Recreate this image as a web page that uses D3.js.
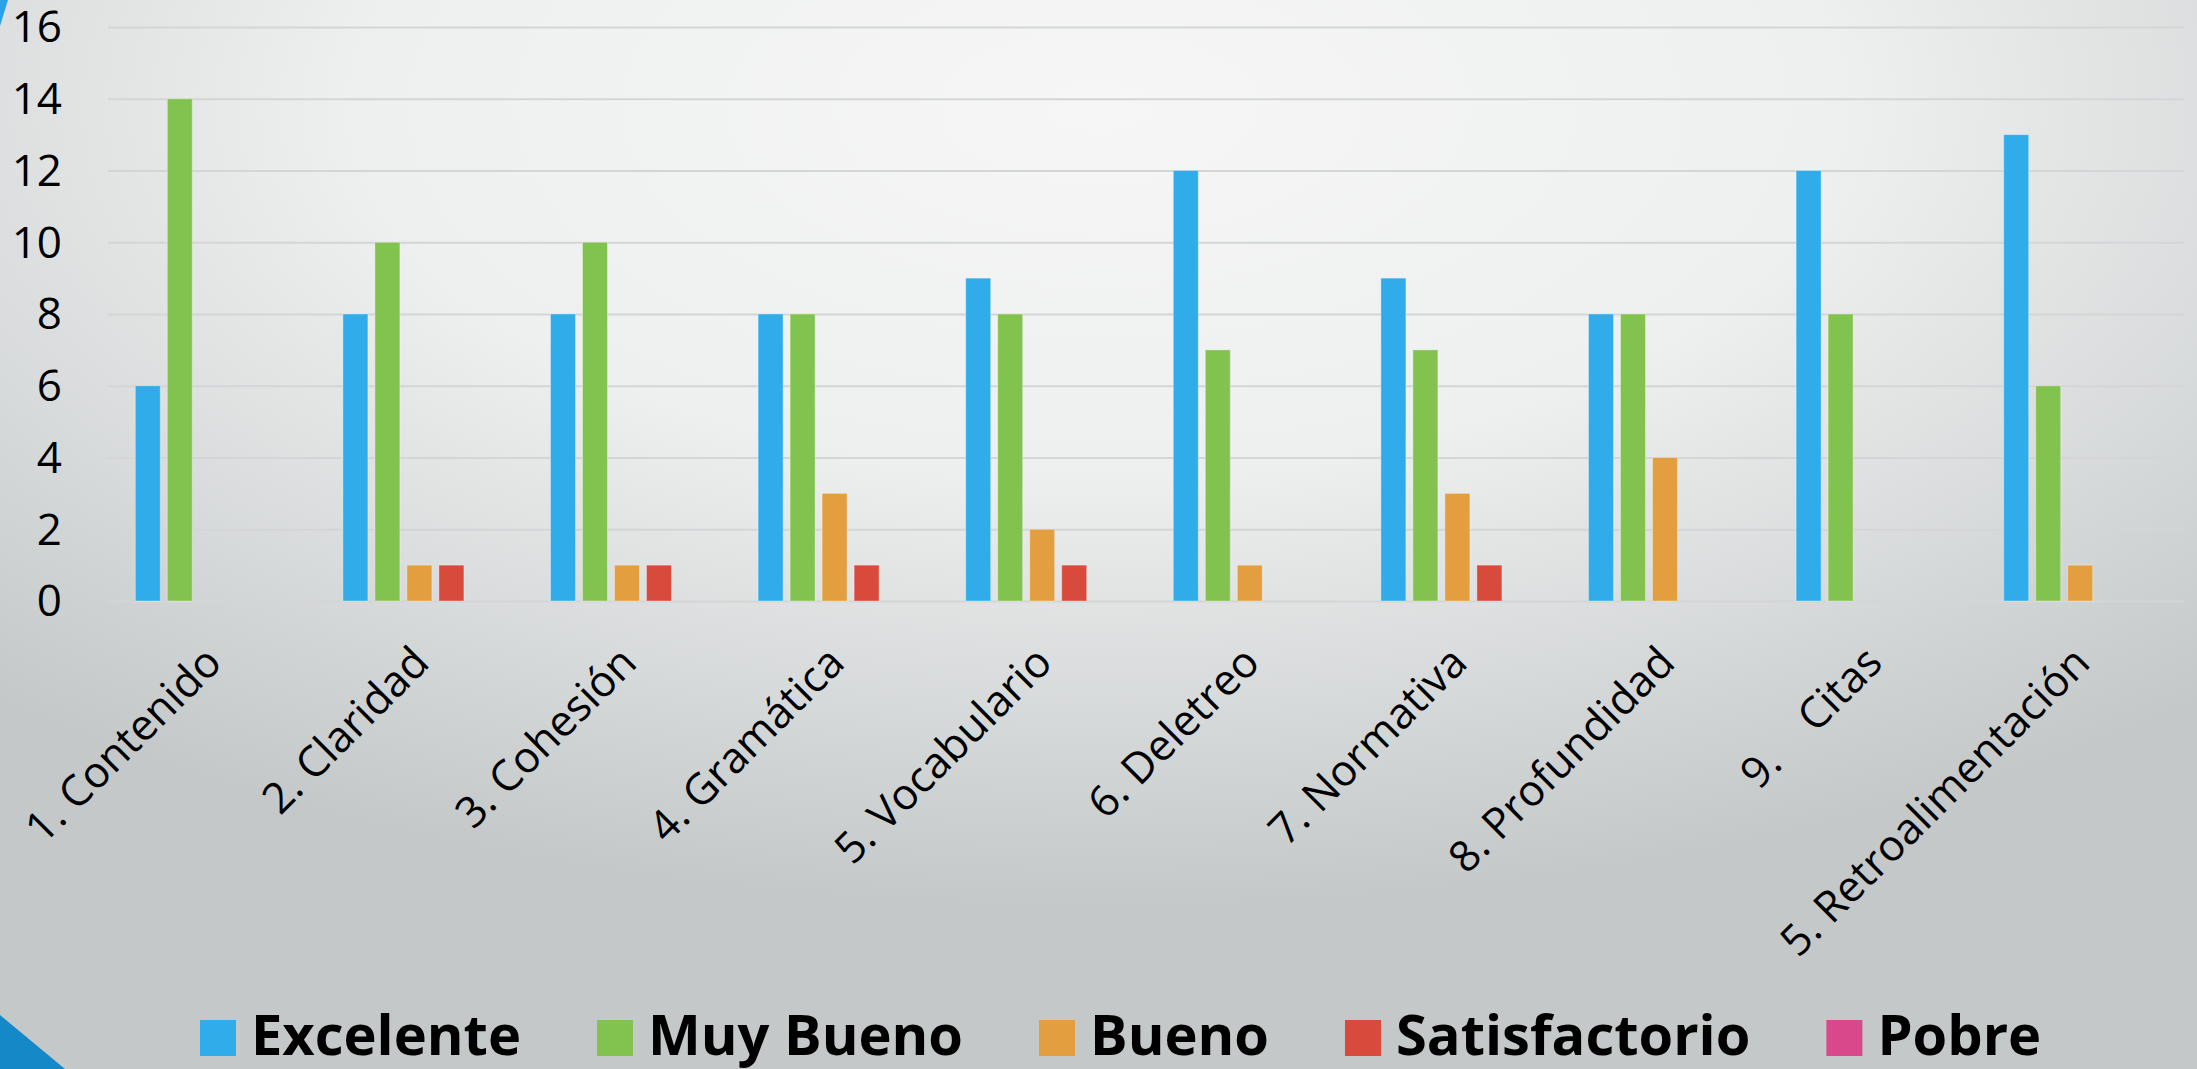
<!DOCTYPE html>
<html>
<head>
<meta charset="utf-8">
<script src="https://cdn.jsdelivr.net/npm/d3@7"></script>
<style>
  html, body { margin: 0; padding: 0; overflow: hidden; }
  svg { display: block; }
  text { font-family: "Open Sans", "Noto Sans", sans-serif; fill: #000; }
</style>
</head>
<body>
<svg id="chart" width="2197" height="1069"></svg>
<script>
const categories = ["1. Contenido", "2. Claridad", "3. Cohesión", "4. Gramática", "5. Vocabulario",
  "6. Deletreo", "7. Normativa", "8. Profundidad", "9.\u00a0\u00a0\u00a0\u00a0Citas", "5. Retroalimentación"];
const seriesNames = ["Excelente", "Muy Bueno", "Bueno", "Satisfactorio", "Pobre"];
const seriesColors = ["#31ACEB", "#82C350", "#E39E3F", "#D84B3C", "#D8488A"];
const excelente     = [6, 8, 8, 8, 9, 12, 9, 8, 12, 13];
const muyBueno      = [14, 10, 10, 8, 8, 7, 7, 8, 8, 6];
const bueno         = [0, 1, 1, 3, 2, 1, 3, 4, 0, 1];
const satisfactorio = [0, 1, 1, 1, 1, 0, 1, 0, 0, 0];
const pobre         = [0, 0, 0, 0, 0, 0, 0, 0, 0, 0];
const yTicks = [0, 2, 4, 6, 8, 10, 12, 14, 16];

(function () {
const seriesValues = [excelente, muyBueno, bueno, satisfactorio, pobre];
const W = 2197, H = 1069;
const svg = d3.select("#chart");

// background
const defs = svg.append("defs");
const grad = defs.append("radialGradient").attr("id", "bg")
  .attr("cx", 0.5).attr("cy", 0.1).attr("r", 0.75).attr("fx", 0.5).attr("fy", 0.1);
grad.append("stop").attr("offset", 0).attr("stop-color", "#f6f6f6");
grad.append("stop").attr("offset", 0.45).attr("stop-color", "#eeefef");
grad.append("stop").attr("offset", 1).attr("stop-color", "#c4c8c9");
svg.append("rect").attr("width", W).attr("height", H).attr("fill", "url(#bg)");

// decorative corners
svg.append("path").attr("d", "M0,0 L8,0 L0,26 Z").attr("fill", "#2aa3e6");
svg.append("path").attr("d", `M0,1015 L65,${H} L0,${H} Z`).attr("fill", "#1589C8");

const pLeft = 108, pRight = 2184, pTop = 27, pBottom = 601;
const x0 = d3.scaleBand().domain(categories).range([pLeft, pRight]).paddingInner(0).paddingOuter(0);
const x1 = d3.scaleBand().domain(seriesNames).range([0, x0.bandwidth()])
  .paddingInner(7 / 32).paddingOuter(0.853);
const y = d3.scaleLinear().domain([0, 16]).range([pBottom, pTop]);

// gridlines
const yAxis = d3.axisLeft(y).tickValues(yTicks).tickSize(-(pRight - pLeft)).tickFormat("");
const gAxis = svg.append("g").attr("transform", `translate(${pLeft},0)`).call(yAxis);
gAxis.select(".domain").remove();
gAxis.selectAll(".tick line").attr("stroke", "#d4d5d6").attr("stroke-width", 2);

// y labels
svg.append("g").selectAll("text").data(yTicks).join("text")
  .attr("x", 62).attr("y", d => y(d)).attr("dy", "0.35em")
  .attr("text-anchor", "end").attr("font-size", 44).text(d => d);

// bars
const groups = svg.append("g").selectAll("g").data(categories).join("g")
  .attr("transform", d => `translate(${x0(d)},0)`);
groups.selectAll("rect")
  .data((d, i) => seriesNames.map((s, j) => ({ s, v: seriesValues[j][i], c: seriesColors[j] })))
  .join("rect")
  .attr("x", d => x1(d.s))
  .attr("width", x1.bandwidth())
  .attr("y", d => y(d.v))
  .attr("height", d => y(0) - y(d.v))
  .attr("fill", d => d.c)
  .attr("stroke", "rgba(255,255,255,0.35)")
  .attr("stroke-width", 1);

// x labels
svg.append("g").selectAll("text").data(categories).join("text")
  .attr("transform", d => `translate(${x0(d) + x0.bandwidth() / 2 + 12},665) rotate(-45)`)
  .attr("text-anchor", "end").attr("font-size", 43)
  .style("white-space", "pre")
  .text(d => d);

// legend
const legend = svg.append("g");
let lx = 200;
seriesNames.forEach((name, i) => {
  legend.append("rect").attr("x", lx).attr("y", 1020).attr("width", 36).attr("height", 36)
    .attr("fill", seriesColors[i]);
  const t = legend.append("text").attr("x", lx + 51).attr("y", 1055)
    .attr("font-size", 56).attr("font-weight", "bold").text(name);
  lx += 51 + t.node().getComputedTextLength() + 76;
});
})();
</script>
</body>
</html>
